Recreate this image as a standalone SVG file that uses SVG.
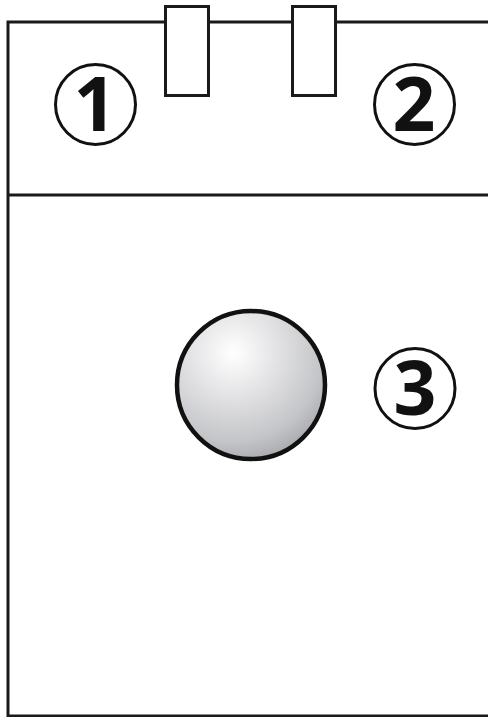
<svg xmlns="http://www.w3.org/2000/svg" width="488" height="717" viewBox="0 0 488 717">
<style>
.ln{fill:none;stroke:#1a1a1a;stroke-width:3}
.tab{fill:#fff;stroke:#1a1a1a;stroke-width:3}
.badge{fill:#fff;stroke:#111;stroke-width:3}
.num{font-family:"Open Sans","DejaVu Sans",sans-serif;font-weight:700;font-size:75px;fill:#111;text-anchor:middle}
</style>
<defs>
<radialGradient id="ballg" cx="0.38" cy="0.28" r="0.75">
<stop offset="0" stop-color="#ffffff"/>
<stop offset="0.35" stop-color="#e6e6e8"/>
<stop offset="0.8" stop-color="#c4c5c8"/>
<stop offset="1" stop-color="#a9abae"/>
</radialGradient>
</defs>
<rect width="488" height="717" fill="#fff"/>
<g id="frame">
<path class="ln" d="M488,22 H8 V716 H488"/>
<line class="ln" x1="8" y1="195" x2="488" y2="195"/>
</g>
<g id="tab1"><rect class="tab" x="165.5" y="6.5" width="43" height="89"/></g>
<g id="tab2"><rect class="tab" x="292.5" y="6.5" width="43" height="89"/></g>
<g id="label1"><circle class="badge" cx="95.5" cy="104.5" r="40"/><text class="num" x="95" y="131">1</text></g>
<g id="label2"><circle class="badge" cx="414.5" cy="104.5" r="40"/><text class="num" x="414" y="131">2</text></g>
<g id="ball"><circle cx="251" cy="385" r="74" fill="url(#ballg)" stroke="#111" stroke-width="4.5"/></g>
<g id="label3"><circle class="badge" cx="415" cy="388.5" r="40"/><text class="num" x="415" y="415">3</text></g>
</svg>
